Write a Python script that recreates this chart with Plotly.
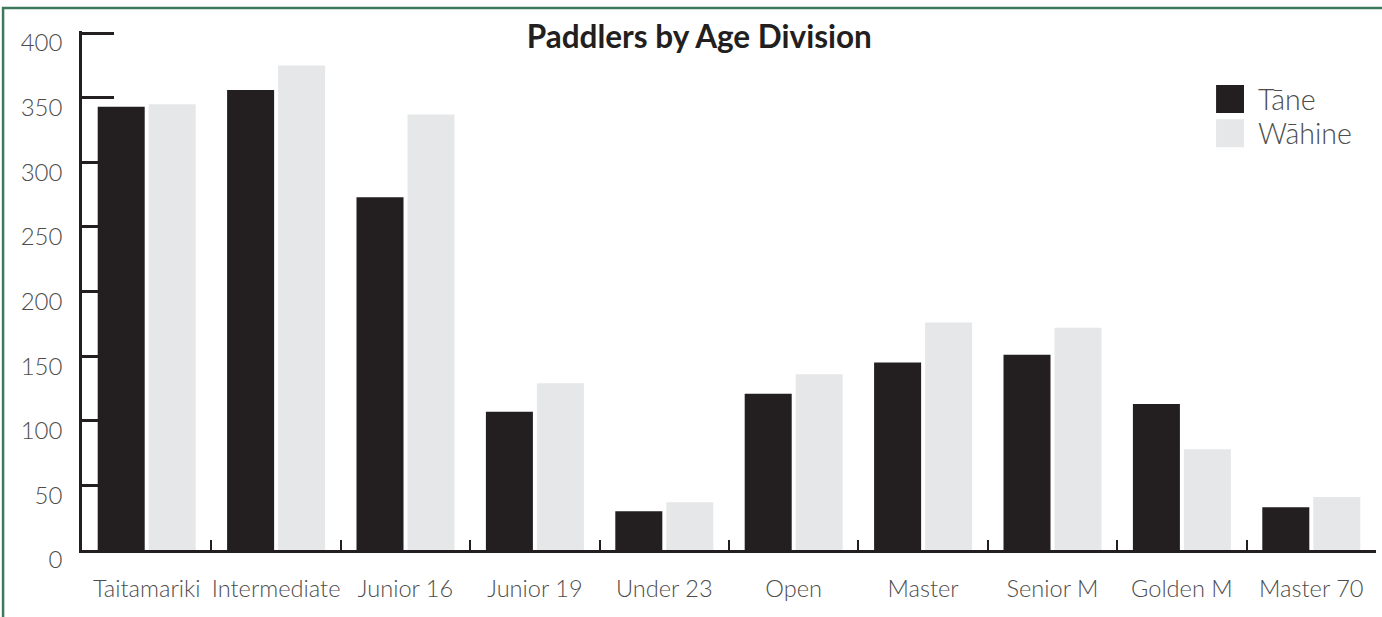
import plotly.graph_objects as go

categories = ["Taitamariki", "Intermediate", "Junior 16", "Junior 19", "Under 23",
              "Open", "Master", "Senior M", "Golden M", "Master 70"]
tane = [343, 356, 273, 107, 30, 121, 145, 151, 113, 33]
wahine = [345, 375, 337, 129, 37, 136, 176, 172, 78, 41]
series_names = ["Tāne", "Wāhine"]
y_ticks = [0, 50, 100, 150, 200, 250, 300, 350, 400]

DARK = "#231f20"
LIGHT = "#e6e7e8"
TXT = "#4d4d4d"
FONT = "Lato"

fig = go.Figure()
fig.add_trace(go.Bar(x=categories, y=tane, name=series_names[0],
                     marker=dict(color=DARK, line=dict(width=0))))
fig.add_trace(go.Bar(x=categories, y=wahine, name=series_names[1],
                     marker=dict(color=LIGHT, line=dict(width=0))))

fig.update_layout(
    width=1382, height=617,
    margin=dict(l=82, r=6, t=31, b=67, autoexpand=False),
    paper_bgcolor="white", plot_bgcolor="white",
    barmode="group", bargap=0.212, bargroupgap=0.078,
    showlegend=False,
    font=dict(family=FONT, color=TXT),
    title=dict(text="<b>Paddlers by Age Division</b>", x=0.506, xref="container",
               xanchor="center", y=0.94, yref="container", yanchor="middle",
               font=dict(family=FONT, size=31.5, color=DARK)),
)

fig.update_xaxes(
    type="category", showline=True, linecolor=DARK, linewidth=2.5,
    ticks="inside", tickson="boundaries", ticklen=10, tickwidth=2, tickcolor=DARK,
    showgrid=False, zeroline=False, tickangle=0, automargin=False,
    tickfont=dict(family=FONT, size=23.6, color=TXT, weight=300),
    ticklabelstandoff=16,
)
fig.update_yaxes(
    range=[0, 401.6], tickvals=y_ticks, showline=True, linecolor=DARK, linewidth=2.5,
    ticks="inside", ticklen=32, tickwidth=2.5, tickcolor=DARK,
    showgrid=False, zeroline=False, automargin=False,
    tickfont=dict(family=FONT, size=24, color=TXT, weight=300),
    ticklabelstandoff=12, ticklabelshift=10,
)

# Frame border (green)
fig.add_shape(type="rect", xref="paper", yref="paper",
              x0=-0.061, x1=1.02, y0=-0.2, y1=1.0445,
              line=dict(color="#3d7a5c", width=2.5), fillcolor="rgba(0,0,0,0)", layer="below")

# Manual legend
legend_colors = [DARK, LIGHT]
legend_y = [(0.896, 0.842), (0.830, 0.776)]
for name, col, (ytop, ybot) in zip(series_names, legend_colors, legend_y):
    fig.add_shape(type="rect", xref="paper", yref="paper",
                  x0=0.8764, x1=0.898, y0=ybot, y1=ytop,
                  line=dict(width=0), fillcolor=col)
    fig.add_annotation(xref="paper", yref="paper", x=0.907, y=(ytop + ybot) / 2,
                       text=name, showarrow=False, xanchor="left", yanchor="middle",
                       font=dict(family=FONT, size=28.5, color=TXT, weight=300))

fig.write_html("out.html", config={"displayModeBar": False},
               post_script="document.body.style.margin='0';")
